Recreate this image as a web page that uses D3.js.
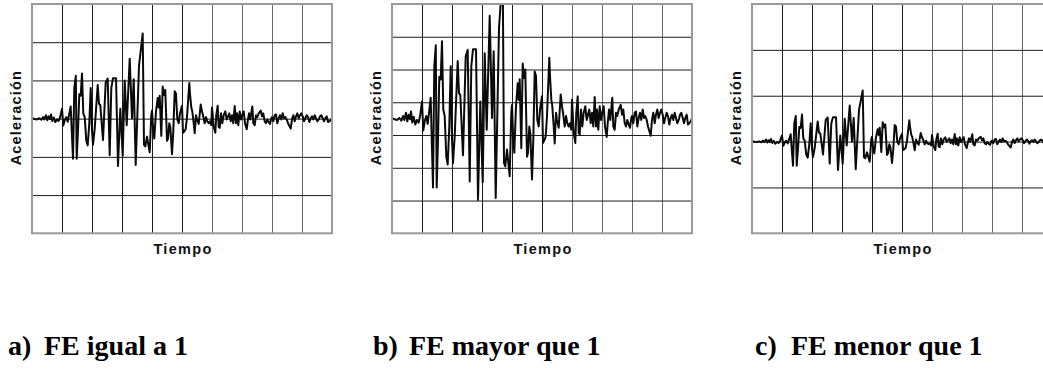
<!DOCTYPE html>
<html>
<head>
<meta charset="utf-8">
<script src="https://cdn.jsdelivr.net/npm/d3@7"></script>
<style>
  html, body { margin: 0; padding: 0; background: #fff; }
  svg { display: block; }
</style>
</head>
<body>
<script>
// Acelerograma base (tiempo en s, aceleración en unidades de la retícula del caso FE = 1)
const tiempo = [
  0.00, 0.27, 0.50, 0.73, 0.93, 1.10, 1.23, 1.40, 1.53, 1.67, 1.80, 1.90, 2.03, 2.17, 2.33, 2.50, 2.67, 2.83,
  3.00, 3.13, 3.30, 3.43, 3.57, 3.70, 3.87, 4.00, 4.10, 4.23, 4.38, 4.47, 4.60, 4.73, 4.87, 5.00, 5.13, 5.27,
  5.43, 5.57, 5.73, 5.87, 6.00, 6.10, 6.27, 6.57, 6.70, 6.83, 7.10, 7.37, 7.57, 7.77, 7.93, 8.10, 8.40, 8.60,
  8.83, 9.07, 9.27, 9.47, 9.77, 10.00, 10.17, 10.37, 10.70, 11.07, 11.20, 11.33, 11.50, 11.77, 11.93,
  12.00, 12.10, 12.23, 12.40, 12.57, 12.67, 12.77, 12.93, 13.07, 13.20, 13.33, 13.50, 13.60, 13.73, 13.83,
  14.00, 14.13, 14.27, 14.40, 14.53, 14.67, 14.80, 15.00, 15.10, 15.27, 15.37, 15.50, 15.73, 15.80, 15.93,
  16.03, 16.17, 16.27, 16.40, 16.50, 16.67, 16.87, 17.00, 17.10, 17.27, 17.40, 17.53, 17.67, 17.80, 17.93,
  18.00, 18.17, 18.33, 18.43, 18.57, 18.67, 18.77, 18.90, 19.03, 19.17, 19.33, 19.47, 19.60, 19.73, 19.87,
  20.00, 20.13, 20.27, 20.40, 20.50, 20.63, 20.77, 20.90, 21.03, 21.17, 21.30, 21.47, 21.57, 21.70, 21.83,
  22.03, 22.13, 22.27, 22.40, 22.53, 22.67, 22.87, 23.00, 23.13, 23.27, 23.40, 23.53, 23.67, 23.80, 23.93,
  24.00, 24.13, 24.27, 24.40, 24.53, 24.67, 24.80, 24.93, 25.07, 25.20, 25.33, 25.47, 25.60, 25.73, 25.87,
  26.00, 26.13, 26.27, 26.40, 26.53, 26.67, 26.80, 26.93, 27.07, 27.20, 27.33, 27.47, 27.60, 27.73, 27.87,
  28.00, 28.13, 28.27, 28.40, 28.53, 28.67, 28.80, 28.93, 29.07, 29.20, 29.33, 29.47, 29.60, 29.73, 29.87, 30.00
];
const registro = [
  0.01, -0.01, -0.02, 0.01, -0.03, 0.04, -0.02, 0.09, -0.04, 0.06, -0.01, 0.11, -0.06, 0.03, -0.09, -0.02, -0.06, 0.06,
  0.26, -0.18, -0.02, 0.04, -0.08, 0.09, 0.32, -0.47, -1.05, 0.80, 1.12, -1.05, -0.32, 0.64, 0.60, 1.18, 0.14, 0.04,
  -0.58, -0.70, -0.12, 0.80, -0.32, -0.68, -0.27, 0.88, 0.39, 0.36, -0.56, 0.95, 1.05, -0.96, 0.80, 1.06, 1.06, -1.24,
  0.26, -0.97, 1.00, -0.17, 1.57, 0.01, 1.03, -1.21, 1.38, 2.23, -0.68, -0.73, -0.47, -0.88, 0.09,
  0.21, -0.22, -0.52, 0.19, 0.54, 0.29, 0.60, -0.45, 0.84, 0.62, 0.75, -0.58, -0.52, -0.12, -0.22,
  -0.93, -0.32, 0.72, 0.65, -0.02, -0.12, 0.14, 0.34, -0.37, -0.32, -0.27, 0.04, 0.93, 0.65, 0.29,
  0.19, -0.12, -0.38, 0.09, -0.02, -0.14, 0.37, 0.19, 0.09, -0.12, 0.04, -0.07, -0.12, -0.07, -0.17,
  0.29, -0.22, -0.37, 0.09, 0.34, -0.22, -0.24, 0.14, -0.12, 0.09, 0.19, -0.02, 0.06, 0.14, -0.07,
  0.09, -0.12, 0.33, -0.12, 0.14, -0.17, 0.19, -0.02, 0.09, 0.19, -0.12, -0.28, -0.07, 0.14, -0.02,
  0.32, -0.12, -0.17, 0.09, 0.04, 0.14, 0.21, 0.06, 0.14, -0.07, -0.12, -0.02, -0.09, -0.14, 0.01,
  0.04, -0.07, 0.09, 0.11, -0.12, 0.01, 0.09, -0.02, 0.14, 0.01, 0.04, -0.02, -0.12, -0.19, -0.26,
  -0.02, 0.09, -0.07, 0.06, 0.14, 0.01, 0.09, 0.14, 0.06, -0.07, 0.01, 0.09, 0.04, -0.09, 0.01,
  0.06, -0.02, 0.09, 0.01, -0.07, -0.02, 0.06, 0.09, 0.01, -0.07, 0.01, 0.06, -0.09, -0.07, -0.04, 0.01
];

// Factor de escala aplicado al registro en cada caso
const factores = [1, 2, 0.5];
const rotulos = ["a)", "b)", "c)"];
const titulos = ["FE igual a 1", "FE mayor que 1", "FE menor que 1"];
const dominiosY = [[-3, 3], [-3.5, 3.5], [-2, 3]];
const lineasY = [
  [-2, -1, 0, 1, 2],
  [-2.5, -1.5, -0.5, 0.5, 1.5, 2.5],
  [-1, 0, 1, 2]
];
const dominioT = [0, 30];
const lineasT = [3, 6, 9, 12, 15, 18, 21, 24, 27];
const textoEjeY = "Aceleración";
const textoEjeX = "Tiempo";

const W = 1043, H = 373;
const izquierdas = [32, 392, 752];
const posPie = [8, 373, 755];
const arriba = 4;
const anchoG = 300, altoG = 229.3;

const svg = d3.select("body").append("svg")
  .attr("width", W).attr("height", H)
  .attr("viewBox", `0 0 ${W} ${H}`);

svg.append("rect").attr("width", W).attr("height", H).attr("fill", "#fff");

const datos = tiempo.map((t, i) => ({ t, a: registro[i] }));

factores.forEach((fe, k) => {
  const x = d3.scaleLinear().domain(dominioT).range([0, anchoG]);
  const y = d3.scaleLinear().domain(dominiosY[k]).range([altoG, 0]);

  const g = svg.append("g").attr("transform", `translate(${izquierdas[k]},${arriba})`);

  // Retícula vertical
  const gx = g.append("g")
    .attr("transform", `translate(0,${altoG})`)
    .call(d3.axisBottom(x).tickValues(lineasT).tickSize(-altoG).tickFormat(""));
  gx.select(".domain").remove();
  gx.selectAll(".tick line")
    .attr("stroke", (d, i) => i < 5 ? "#1c1c1c" : "#6a6a6a")
    .attr("stroke-width", 1);

  // Retícula horizontal
  const gy = g.append("g")
    .call(d3.axisLeft(y).tickValues(lineasY[k]).tickSize(-anchoG).tickFormat(""));
  gy.select(".domain").remove();
  gy.selectAll(".tick line").attr("stroke", "#1c1c1c").attr("stroke-width", 1);

  // Registro escalado
  const idClip = `recorte-${k}`;
  g.append("clipPath").attr("id", idClip)
    .append("rect").attr("x", 0).attr("y", 0).attr("width", anchoG).attr("height", altoG);

  const linea = d3.line()
    .x(d => x(d.t))
    .y(d => y(d.a * fe));

  g.append("path")
    .datum(datos)
    .attr("clip-path", `url(#${idClip})`)
    .attr("fill", "none")
    .attr("stroke", "#0a0a0a")
    .attr("stroke-width", 2)
    .attr("stroke-linejoin", "round")
    .attr("d", linea);

  // Marco
  g.append("rect")
    .attr("x", 0).attr("y", 0)
    .attr("width", anchoG).attr("height", altoG)
    .attr("fill", "none")
    .attr("stroke", "#9a9a9a")
    .attr("stroke-width", 2);

  // Rótulos de ejes
  g.append("text")
    .attr("transform", `translate(-11,${altoG / 2 - 1}) rotate(-90)`)
    .attr("text-anchor", "middle")
    .style("font-family", "'Liberation Sans', Arial, sans-serif")
    .style("font-weight", "bold")
    .style("font-size", "14.5px")
    .style("letter-spacing", "1.2px")
    .attr("fill", "#111")
    .text(textoEjeY);

  g.append("text")
    .attr("x", anchoG / 2 + 1)
    .attr("y", altoG + 21)
    .attr("text-anchor", "middle")
    .style("font-family", "'Liberation Sans', Arial, sans-serif")
    .style("font-weight", "bold")
    .style("font-size", "14.5px")
    .style("letter-spacing", "1.3px")
    .attr("fill", "#111")
    .text(textoEjeX);

  // Leyenda del caso
  const pie = svg.append("g")
    .attr("transform", `translate(${posPie[k]},355)`)
    .style("font-family", "'Liberation Serif', 'Times New Roman', serif")
    .style("font-weight", "bold")
    .style("font-size", "28px")
    .attr("fill", "#000");
  pie.append("text").attr("x", 0).attr("y", 0).text(rotulos[k]);
  pie.append("text").attr("x", 36).attr("y", 0).text(titulos[k]);
});
</script>
</body>
</html>
